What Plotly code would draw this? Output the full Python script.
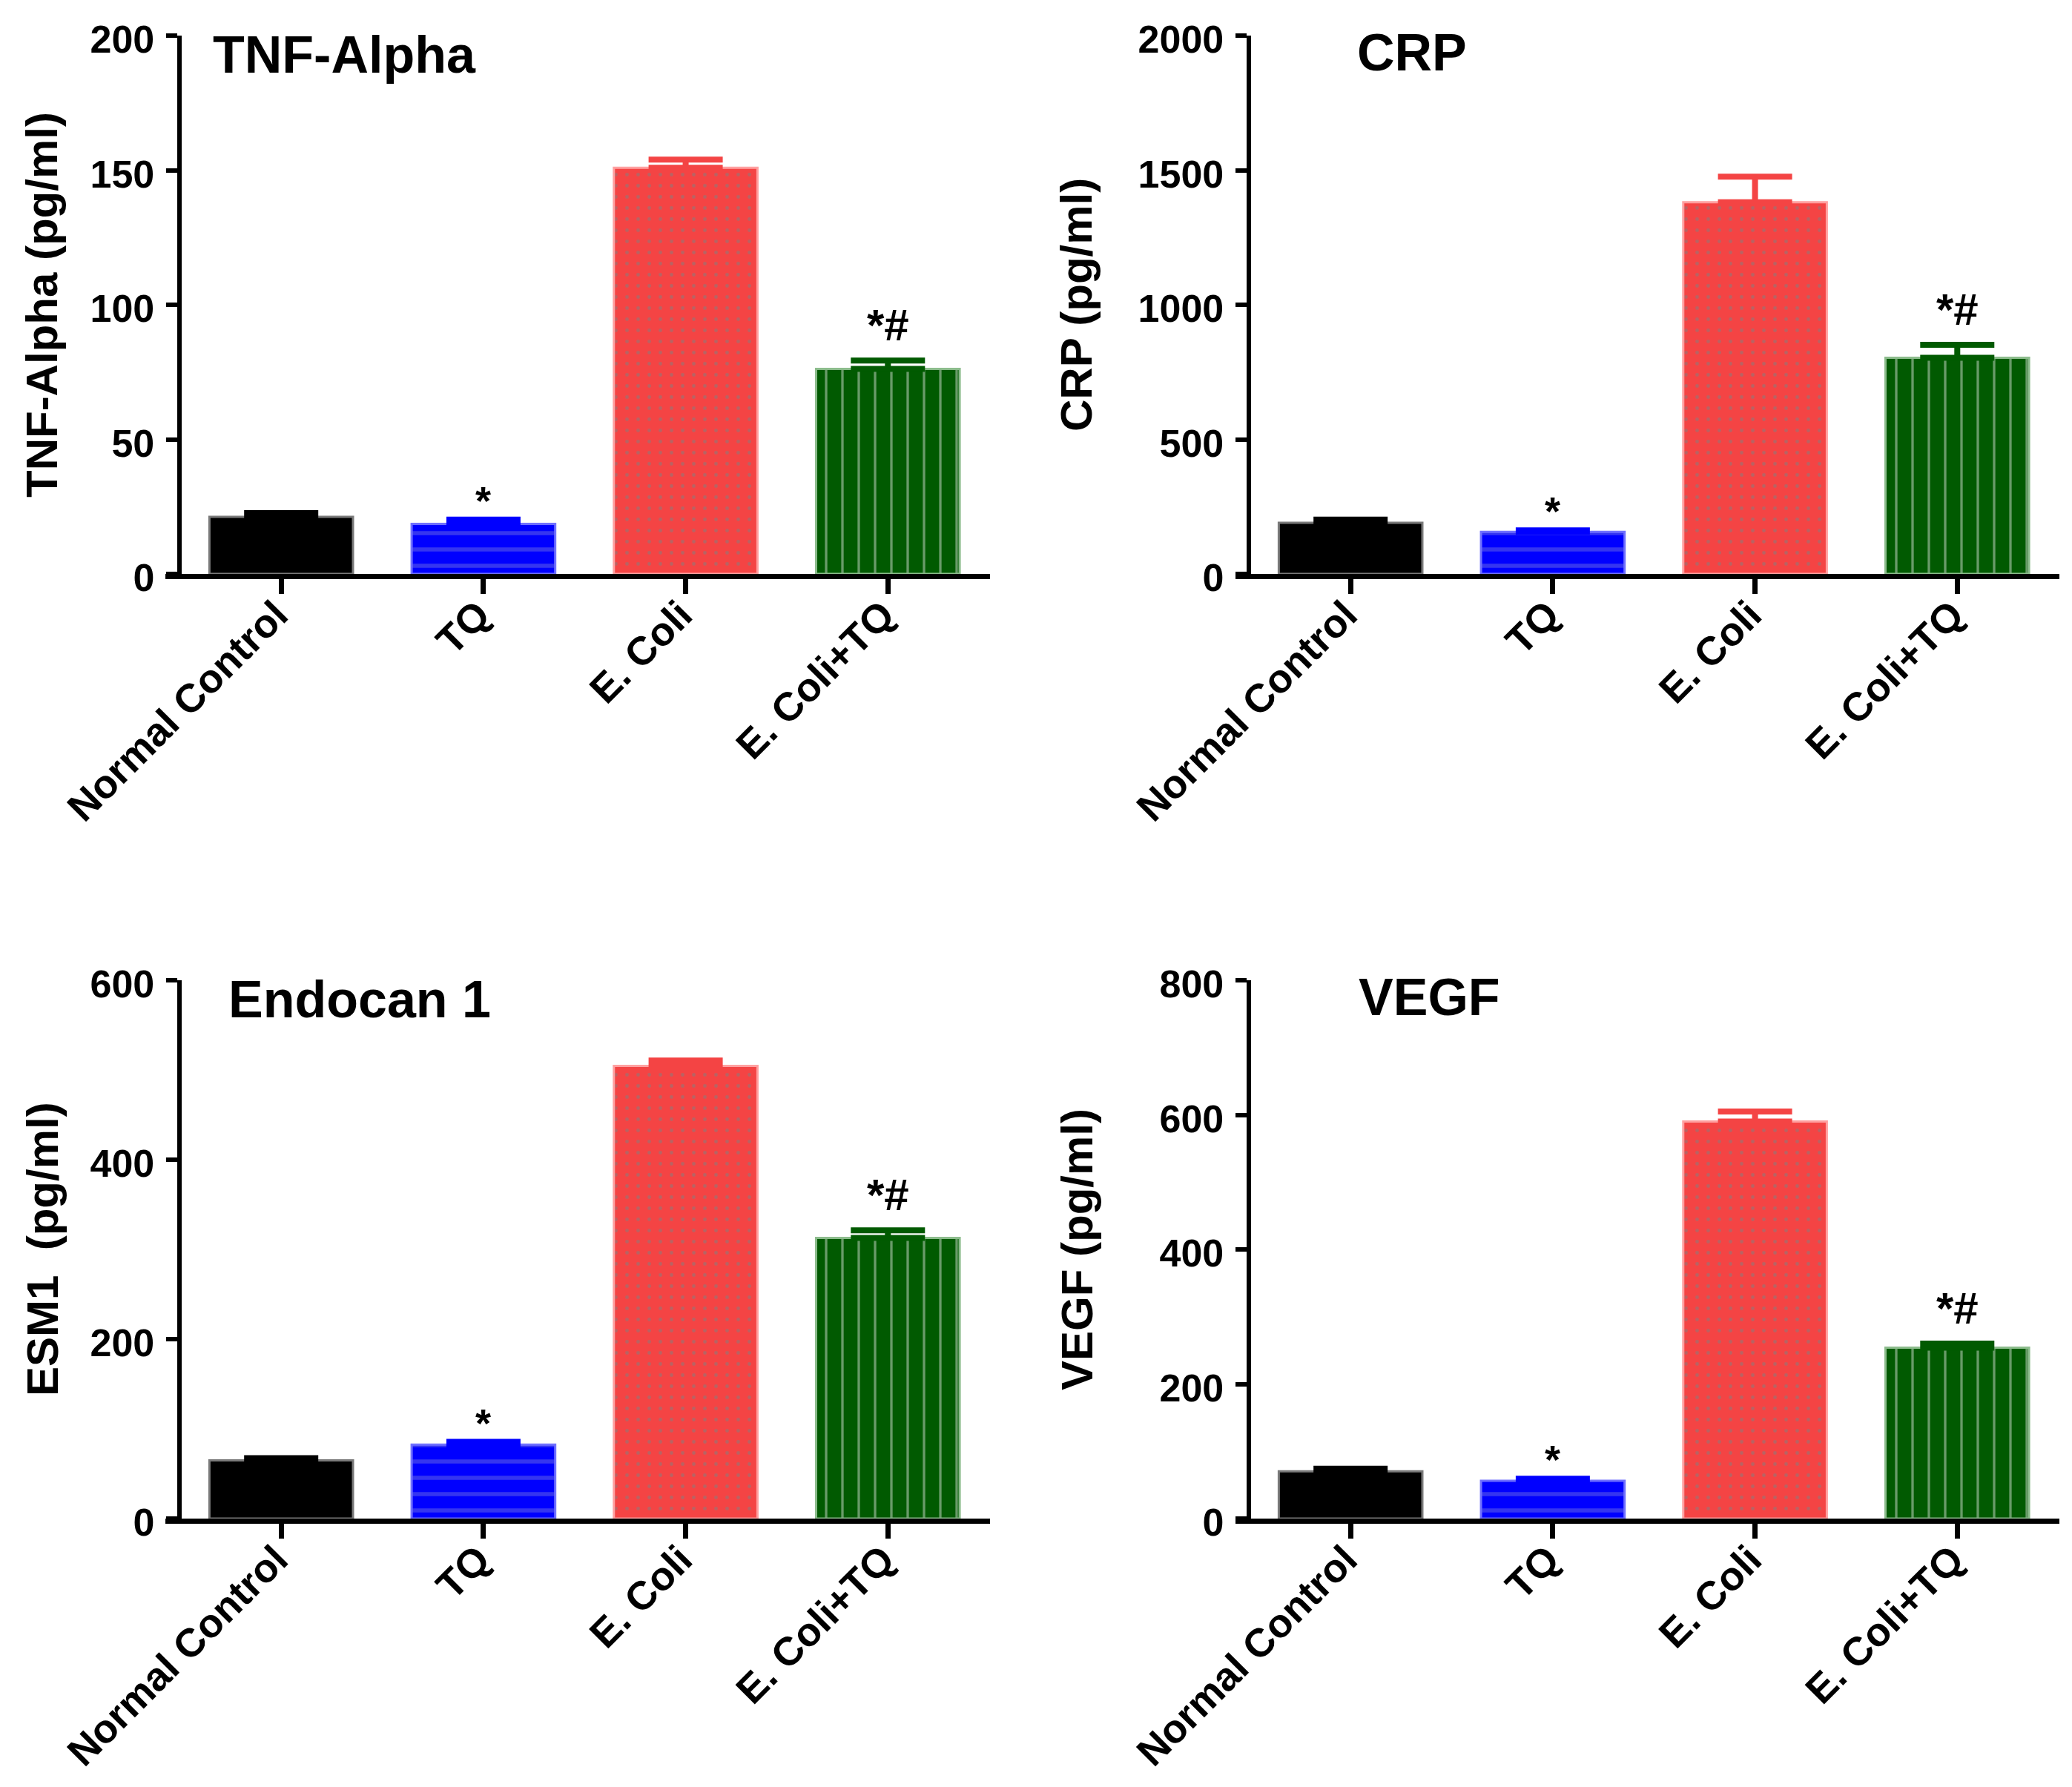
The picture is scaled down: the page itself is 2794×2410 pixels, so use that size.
import plotly.graph_objects as go

categories = ["Normal Control", "TQ", "E. Coli", "E. Coli+TQ"]

tnf_mean = [21.2, 18.6, 150.9, 76.2]
tnf_sem = [1.4, 1.6, 3.0, 3.1]
crp_mean = [190, 156, 1381, 803]
crp_sem = [12, 6, 95, 48]
esm1_mean = [64.8, 82.5, 504.6, 312.8]
esm1_sem = [2.5, 3.0, 6.0, 8.5]
vegf_mean = [70.2, 56.3, 590, 254]
vegf_sem = [4, 3, 15, 6]

sig_marks = ["", "*", "", "*#"]

panel_titles = ["TNF-Alpha", "CRP", "Endocan 1", "VEGF"]
y_titles = ["TNF-Alpha (pg/ml)", "CRP (pg/ml)", "ESM1  (pg/ml)", "VEGF (pg/ml)"]
y_max = [200, 2000, 600, 800]
y_dtick = [50, 500, 200, 200]

means = [tnf_mean, crp_mean, esm1_mean, vegf_mean]
sems = [tnf_sem, crp_sem, esm1_sem, vegf_sem]

# page is 2794x2410; the html body has an 8px margin, so the figure is 16px smaller
PAGE_W, PAGE_H, BODY = 2794, 2410, 8
W, H = PAGE_W - 2 * BODY, PAGE_H - 2 * BODY


def px(X):
    return (X - BODY) / W


def py(Y):
    return 1 - (Y - BODY) / H


FONT = "Liberation Sans, Arial, sans-serif"

bar_colors = ["#000000", "#0000ff", "#f44444", "#015a01"]
edge_colors = ["#7a7a7a", "#7070ff", "#ffa0a0", "#8cbc8c"]
patterns = [
    dict(shape=""),
    dict(shape="-", fgcolor="#6a6ae2", size=22, solidity=0.25, fillmode="overlay"),
    dict(shape=".", fgcolor="#808080", size=15, solidity=0.08, fillmode="overlay"),
    dict(shape="|", fgcolor="#d2dcd2", size=22, solidity=0.15, fillmode="overlay"),
]

# panel geometry in page pixels
yaxis_x = [241.7, 1683.7, 241.7, 1683.7]
xline_start = [223, 1666, 223, 1666]
xline_end = [1335, 2777, 1335, 2777]
y_top = [48, 48, 1322, 1322]
y_bot = [774, 774, 2048, 2048]
cat_px = 272.7
x_end_val = 3.505

title_pos = [(285, 74), (1828, 71), (306, 1348), (1830, 1345)]
ytitle_x = [57, 1452, 57, 1452]

fig = go.Figure()
annotations = []
layout = dict(
    template="none",
    width=W, height=H,
    margin=dict(l=0, r=0, t=0, b=0, pad=0),
    paper_bgcolor="white", plot_bgcolor="white",
    barmode="overlay", showlegend=False,
)

for p in range(4):
    ax = "" if p == 0 else str(p + 1)
    for i, cat in enumerate(categories):
        fig.add_trace(go.Bar(
            x=[cat], y=[means[p][i]], width=0.71,
            xaxis="x" + ax, yaxis="y" + ax,
            marker=dict(color=bar_colors[i], line=dict(color=edge_colors[i], width=3),
                        pattern=patterns[i]),
            error_y=dict(type="data", array=[sems[p][i]], arrayminus=[0], symmetric=False,
                         color=bar_colors[i], thickness=8, width=50),
            showlegend=False,
        ))
        if sig_marks[i]:
            big = len(sig_marks[i]) > 1
            annotations.append(dict(
                x=cat, y=means[p][i] + sems[p][i], xref="x" + ax, yref="y" + ax,
                text="<b>" + sig_marks[i] + "</b>", showarrow=False,
                yanchor="bottom", xanchor="center", yshift=12 if big else -6,
                font=dict(family=FONT, size=60 if big else 54, color="black"),
            ))
    x_start_val = x_end_val - (xline_end[p] - xline_start[p]) / cat_px
    layout["xaxis" + ax] = dict(
        domain=[px(xline_start[p]), px(xline_end[p])], anchor="y" + ax, type="category",
        categoryorder="array", categoryarray=categories, automargin=False,
        range=[x_start_val, x_end_val], showline=True, linecolor="black", linewidth=7,
        ticks="outside", ticklen=20, tickwidth=7, tickcolor="black",
        tickangle=-45, showgrid=False, zeroline=False,
        ticklabelstandoff=-25, ticklabelshift=-7,
        tickfont=dict(family=FONT, size=54, color="black", weight="bold"),
    )
    layout["yaxis" + ax] = dict(
        domain=[py(y_bot[p]), py(y_top[p])], anchor="free",
        position=px(yaxis_x[p]), range=[0, y_max[p]], automargin=False,
        tick0=0, dtick=y_dtick[p], showline=True, linecolor="black", linewidth=6,
        ticks="outside", ticklen=15, tickwidth=6, tickcolor="black",
        showgrid=False, zeroline=False, ticklabelstandoff=5, ticklabelshift=5,
        tickfont=dict(family=FONT, size=52, color="black", weight="bold"),
    )
    annotations.append(dict(
        x=px(title_pos[p][0]), y=py(title_pos[p][1]), xref="paper", yref="paper",
        text="<b>" + panel_titles[p] + "</b>", showarrow=False,
        xanchor="left", yanchor="middle",
        font=dict(family=FONT, size=70, color="black"),
    ))
    annotations.append(dict(
        x=px(ytitle_x[p]), y=(py(y_bot[p]) + py(y_top[p])) / 2, xref="paper", yref="paper",
        text="<b>" + y_titles[p] + "</b>", showarrow=False, textangle=-90,
        xanchor="center", yanchor="middle",
        font=dict(family=FONT, size=60, color="black"),
    ))

layout["annotations"] = annotations
fig.update_layout(**layout)
fig.write_html("out.html")
